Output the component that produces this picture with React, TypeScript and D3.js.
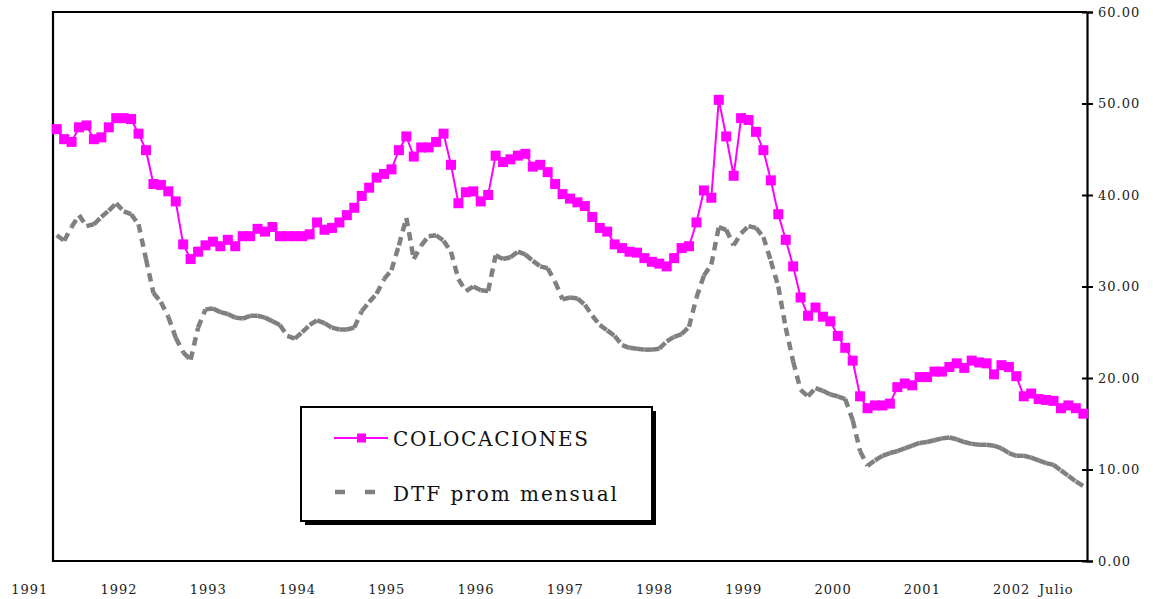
import React, { useEffect, useRef } from 'react';
import * as d3 from 'd3';

// etiquetas del eje de categorias (una por enero) y la ultima (julio 2002)
const yearLabels = ['1991', '1992', '1993', '1994', '1995', '1996', '1997', '1998', '1999', '2000', '2001', '2002'];
const lastLabel = 'Julio';
const yTicks = [0, 10, 20, 30, 40, 50, 60];

// tasas mensuales, ene-1991 .. jul-2002
const colocaciones = [
  47.2, 46.1, 45.8, 47.4, 47.6, 46.1, 46.3, 47.4, 48.4, 48.4, 48.3, 46.7,
  44.9, 41.2, 41.1, 40.4, 39.3, 34.6, 33.0, 33.8, 34.5, 34.9, 34.4, 35.1,
  34.4, 35.5, 35.5, 36.3, 36.0, 36.5, 35.5, 35.5, 35.5, 35.5, 35.7, 37.0,
  36.2, 36.4, 37.0, 37.8, 38.6, 39.9, 40.8, 41.9, 42.3, 42.8, 44.9, 46.4,
  44.2, 45.2, 45.2, 45.8, 46.7, 43.3, 39.1, 40.3, 40.4, 39.3, 40.0, 44.3,
  43.6, 43.9, 44.3, 44.5, 43.1, 43.3, 42.5, 41.2, 40.1, 39.6, 39.2, 38.8,
  37.6, 36.4, 36.0, 34.6, 34.2, 33.8, 33.7, 33.1, 32.7, 32.5, 32.2, 33.1,
  34.2, 34.4, 37.0, 40.5, 39.7, 50.4, 46.4, 42.1, 48.4, 48.2, 46.9, 44.9,
  41.6, 37.9, 35.1, 32.2, 28.8, 26.8, 27.7, 26.7, 26.2, 24.6, 23.3, 21.9,
  18.0, 16.7, 17.0, 17.0, 17.2, 19.0, 19.4, 19.2, 20.1, 20.1, 20.7, 20.7,
  21.2, 21.6, 21.1, 21.9, 21.7, 21.6, 20.4, 21.4, 21.2, 20.2, 18.0, 18.3,
  17.7, 17.6, 17.5, 16.7, 17.0, 16.7, 16.1,
];

const dtf = [
  35.6, 35.0, 36.5, 37.8, 36.6, 36.8, 37.6, 38.3, 39.1, 38.2, 37.9, 36.8,
  33.0, 29.3, 28.3, 26.7, 24.4, 22.8, 22.0, 25.5, 27.5, 27.6, 27.2, 27.0,
  26.6, 26.5, 26.8, 26.8, 26.6, 26.2, 25.8, 24.6, 24.3, 25.0, 25.8, 26.3,
  26.0, 25.5, 25.3, 25.3, 25.5, 27.3, 28.3, 29.2, 30.8, 31.8, 34.5, 37.5,
  33.0, 34.5, 35.5, 35.6, 35.0, 33.8, 30.8, 29.5, 30.0, 29.6, 29.5, 33.4,
  33.0, 33.2, 33.8, 33.5, 32.8, 32.2, 32.0, 30.5, 28.6, 28.8, 28.7, 28.0,
  26.8, 25.8, 25.2, 24.6, 23.6, 23.3, 23.2, 23.1, 23.1, 23.2, 24.0, 24.5,
  24.8, 25.6, 28.8, 31.2, 32.4, 36.5, 36.2, 34.5, 35.8, 36.6, 36.4, 35.4,
  32.8, 30.0, 25.5, 21.8, 18.7, 18.0, 18.9, 18.6, 18.2, 18.0, 17.7, 15.4,
  12.0, 10.4, 11.0, 11.5, 11.8, 12.0, 12.3, 12.6, 12.9, 13.0, 13.2, 13.4,
  13.5, 13.3, 13.0, 12.8, 12.7, 12.7, 12.6, 12.3, 11.8, 11.5, 11.5, 11.3,
  11.0, 10.7, 10.5, 9.9, 9.3, 8.7, 8.2,
];

const WIDTH = 1153;
const HEIGHT = 599;
const FONT = '"DejaVu Serif", serif';
const MAGENTA = '#ff00ff';
const GRAY = '#808080';

export default function App() {
  const ref = useRef<SVGSVGElement>(null);

  useEffect(() => {
    const svg = d3.select(ref.current);
    svg.selectAll('*').remove();

    const left = 53;
    const right = 1087;
    const top = 12;
    const bottom = 561;

    const idx = colocaciones.map((_, i) => i);
    const x = d3.scalePoint<number>().domain(idx).range([left, right]).padding(0.5);
    const y = d3.scaleLinear().domain([0, 60]).range([bottom, top]);

    // marco del area de trazado
    svg.append('path')
      .attr('d', `M${right},${top}H${left}V${bottom}H${right}`)
      .attr('fill', 'none')
      .attr('stroke', '#000')
      .attr('stroke-width', 2.2);

    // eje derecho
    const yAxis = svg.append('g')
      .attr('transform', `translate(${right},0)`)
      .call(d3.axisRight(y).tickValues(yTicks).tickSizeOuter(0).tickSize(6).tickFormat(d3.format('.2f')));
    yAxis.select('.domain').attr('stroke', '#000').attr('stroke-width', 2.2);
    yAxis.selectAll('.tick line').attr('x1', -5).attr('x2', 6).attr('stroke', '#000').attr('stroke-width', 2);
    yAxis.selectAll('.tick text')
      .attr('x', 11)
      .attr('fill', '#222')
      .style('font-family', FONT)
      .style('font-size', '13px')
      .style('letter-spacing', '1px');

    // etiquetas de anos
    const labelOffset = -27;
    const xLabels = svg.append('g')
      .style('font-family', FONT)
      .style('font-size', '13px')
      .style('letter-spacing', '1px')
      .attr('fill', '#222');
    xLabels.selectAll('text.year')
      .data(yearLabels)
      .join('text')
      .attr('class', 'year')
      .attr('x', (_, k) => (x(k * 12) as number) + labelOffset)
      .attr('y', 594)
      .attr('text-anchor', 'middle')
      .text((d) => d);
    xLabels.append('text')
      .attr('x', (x(idx.length - 1) as number) + labelOffset)
      .attr('y', 594)
      .attr('text-anchor', 'middle')
      .text(lastLabel);

    // DTF: cada tramo con su propio patron de guiones
    const seg = d3.line<[number, number]>().x((d) => d[0]).y((d) => d[1]);
    const dtfPts: [number, number][] = dtf.map((v, i) => [x(i) as number, y(v)]);
    svg.append('g')
      .selectAll('path')
      .data(d3.pairs(dtfPts))
      .join('path')
      .attr('d', (d) => seg(d))
      .attr('fill', 'none')
      .attr('stroke', GRAY)
      .attr('stroke-width', 4.5)
      .attr('stroke-dasharray', '8.5,6');

    // colocaciones
    const colLine = d3.line<number>().x((_, i) => x(i) as number).y((d) => y(d));
    svg.append('path')
      .datum(colocaciones)
      .attr('d', colLine)
      .attr('fill', 'none')
      .attr('stroke', MAGENTA)
      .attr('stroke-width', 2);
    const m = 10;
    svg.append('g')
      .selectAll('rect')
      .data(colocaciones)
      .join('rect')
      .attr('x', (_, i) => (x(i) as number) - m / 2)
      .attr('y', (d) => y(d) - m / 2)
      .attr('width', m)
      .attr('height', m)
      .attr('fill', MAGENTA);

    // leyenda
    const lg = svg.append('g');
    lg.append('rect').attr('x', 305).attr('y', 411).attr('width', 351).attr('height', 114).attr('fill', '#000');
    lg.append('rect').attr('x', 301).attr('y', 407).attr('width', 351).attr('height', 114)
      .attr('fill', '#fff').attr('stroke', '#000').attr('stroke-width', 2);
    lg.append('line').attr('x1', 334).attr('x2', 388).attr('y1', 438).attr('y2', 438)
      .attr('stroke', MAGENTA).attr('stroke-width', 2);
    lg.append('rect').attr('x', 361.5 - 4.5).attr('y', 438 - 4.5).attr('width', 9).attr('height', 9).attr('fill', MAGENTA);
    lg.append('line').attr('x1', 335).attr('x2', 377).attr('y1', 492).attr('y2', 492)
      .attr('stroke', GRAY).attr('stroke-width', 4.5).attr('stroke-dasharray', '10,20');
    lg.append('text').attr('x', 393).attr('y', 446)
      .attr('textLength', 195).attr('lengthAdjust', 'spacing')
      .style('font-family', FONT).style('font-size', '20px').attr('fill', '#111')
      .text('COLOCACIONES');
    lg.append('text').attr('x', 393).attr('y', 501)
      .attr('textLength', 224).attr('lengthAdjust', 'spacing')
      .style('font-family', FONT).style('font-size', '20px').attr('fill', '#111')
      .text('DTF prom mensual');
  }, []);

  return (
    <svg
      ref={ref}
      width={WIDTH}
      height={HEIGHT}
      style={{ position: 'absolute', left: 0, top: 0, background: '#fff' }}
    />
  );
}
